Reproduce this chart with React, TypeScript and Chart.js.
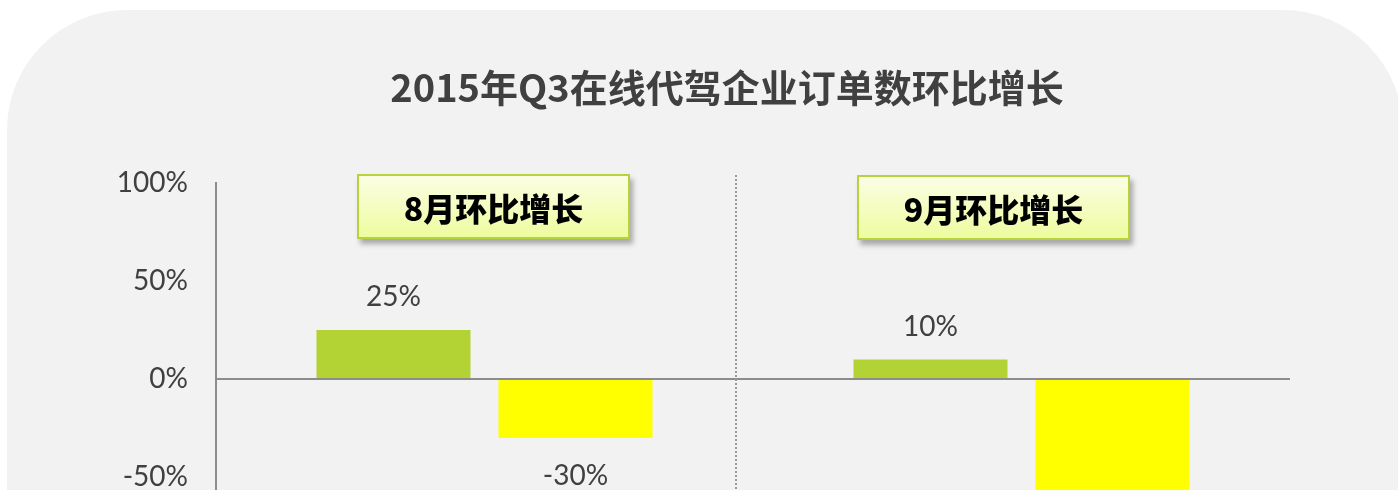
import React, { useEffect, useRef } from "react";
import { Chart, registerables } from "chart.js";

Chart.register(...registerables);

const TITLE = "2015年Q3在线代驾企业订单数环比增长";
const categories = ["8月", "9月"];
const panelLabels = ["8月环比增长", "9月环比增长"];
const seriesGreen = [25, 10];
const seriesYellow = [-30, -65];
const yTicks = [-100, -50, 0, 50, 100];
const SEPARATOR_AT = 0.468;

const TITLE_X = 727;
const TITLE_Y = 88;

const titlePlugin = {
  id: "customTitle",
  afterDraw(chart: any) {
    const ctx = chart.ctx;
    ctx.save();
    ctx.font = "bold 38px 'Noto Sans CJK SC'";
    ctx.fillStyle = "#404040";
    ctx.textAlign = "center";
    ctx.textBaseline = "middle";
    ctx.fillText(TITLE, TITLE_X, TITLE_Y);
    ctx.restore();
  },
};

const labelPlugin = {
  id: "valueLabels",
  afterDatasetsDraw(chart: any) {
    const ctx = chart.ctx;
    ctx.save();
    ctx.font = "28px Lato";
    ctx.fillStyle = "#404040";
    ctx.textAlign = "center";
    ctx.textBaseline = "middle";
    chart.data.datasets.forEach((ds: any, di: number) => {
      const meta = chart.getDatasetMeta(di);
      meta.data.forEach((el: any, i: number) => {
        const v = ds.data[i];
        const y = v >= 0 ? el.y - 33 : el.y + 38;
        ctx.fillText(v + "%", el.x, y);
      });
    });
    ctx.restore();
  },
};

const separatorPlugin = {
  id: "separator",
  beforeDatasetsDraw(chart: any) {
    const ctx = chart.ctx;
    const x = Math.round(chart.scales.x.getPixelForValue(SEPARATOR_AT));
    ctx.save();
    ctx.strokeStyle = "#999999";
    ctx.lineWidth = 2;
    ctx.setLineDash([2, 2]);
    ctx.beginPath();
    ctx.moveTo(x, chart.chartArea.top - 8);
    ctx.lineTo(x, chart.chartArea.bottom);
    ctx.stroke();
    ctx.restore();
  },
};

export default function App() {
  const ref = useRef<HTMLCanvasElement | null>(null);
  useEffect(() => {
    if (!ref.current) return;
    const chart = new Chart(ref.current, {
      type: "bar",
      data: {
        labels: categories,
        datasets: [
          {
            label: "系列1",
            data: seriesGreen,
            backgroundColor: "#b3d234",
            categoryPercentage: 0.678,
            barPercentage: 0.846,
          },
          {
            label: "系列2",
            data: seriesYellow,
            backgroundColor: "#ffff00",
            categoryPercentage: 0.678,
            barPercentage: 0.846,
          },
        ],
      },
      options: {
        responsive: false,
        animation: false,
        devicePixelRatio: 1,
        layout: { padding: { left: 0, right: 108, top: 183, bottom: 43 } },
        plugins: {
          legend: { display: false },
          tooltip: { enabled: false },
          title: { display: false },
        },
        scales: {
          x: { display: false },
          y: {
            min: yTicks[0],
            max: yTicks[yTicks.length - 1],
            afterBuildTicks: (s: any) => {
              s.ticks = yTicks.map((v) => ({ value: v }));
            },
            afterFit: (s: any) => {
              s.width = 216;
            },
            ticks: {
              callback: (v: any) => v + "%",
              color: "#404040",
              font: { family: "Lato", size: 28 },
              padding: 28,
            },
            grid: {
              drawTicks: false,
              color: (c: any) => (c.tick && c.tick.value === 0 ? "#8c8c8c" : "rgba(0,0,0,0)"),
              lineWidth: (c: any) => (c.tick && c.tick.value === 0 ? 2 : 0),
            },
            border: { display: true, color: "#8c8c8c", width: 2 },
          },
        },
      },
      plugins: [separatorPlugin, labelPlugin, titlePlugin],
    });
    return () => chart.destroy();
  }, []);

  const boxes = [
    { left: 357, top: 174 },
    { left: 857, top: 175 },
  ];

  return (
    <div
      style={{
        position: "absolute",
        left: 0,
        top: 0,
        width: 1398,
        height: 490,
        overflow: "hidden",
        background: "#ffffff",
      }}
    >
      <div
        style={{
          position: "absolute",
          left: 7,
          top: 10,
          width: 1396,
          height: 900,
          borderRadius: 120,
          background: "#f2f2f2",
        }}
      />
      <canvas
        ref={ref}
        width={1398}
        height={620}
        style={{ position: "absolute", left: 0, top: 0, width: 1398, height: 620 }}
      />
      {panelLabels.map((t, i) => (
        <div
          key={t}
          style={{
            position: "absolute",
            left: boxes[i].left,
            top: boxes[i].top,
            width: 273,
            height: 65,
            boxSizing: "border-box",
            border: "2px solid #b5d33a",
            background: "linear-gradient(#fbfee4, #eefc9f)",
            boxShadow: "3px 5px 5px rgba(0,0,0,0.3)",
            display: "flex",
            alignItems: "center",
            justifyContent: "center",
            fontFamily: "'Noto Sans CJK SC'",
            fontWeight: 900,
            fontSize: 32,
            color: "#000000",
            lineHeight: 1,
          }}
        >
          {t}
        </div>
      ))}
    </div>
  );
}
